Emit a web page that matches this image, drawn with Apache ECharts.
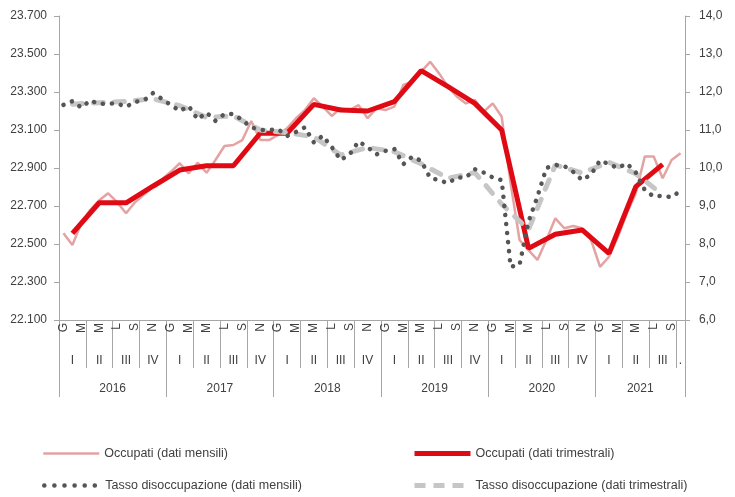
<!DOCTYPE html>
<html>
<head>
<meta charset="utf-8">
<script src="https://cdn.jsdelivr.net/npm/echarts@6/dist/echarts.min.js"></script>
<style>
  html, body { margin: 0; padding: 0; background: #fff; }
  #chart { width: 735px; height: 497px; }
</style>
</head>
<body>
<div id="chart"></div>
<script>
// axis labels
const years = [2016, 2017, 2018, 2019, 2020, 2021];
const monthLetters = ["G", "F", "M", "A", "M", "G", "L", "A", "S", "O", "N", "D"];
const quarterLabels = ["I", "II", "III", "IV"];
const monthCount = 70; // gen 2016 - ott 2021

// occupati, migliaia (asse sinistro)
const occupatiMensili = [
  22556, 22495, 22610, 22680, 22730, 22767, 22720, 22662, 22720, 22760, 22800, 22840,
  22880, 22925, 22872, 22928, 22875, 22942, 23016, 23021, 23047, 23147, 23047, 23047,
  23074, 23109, 23162, 23205, 23267, 23223, 23174, 23214, 23205, 23231, 23162, 23214,
  23205, 23223, 23337, 23355, 23407, 23459, 23398, 23328, 23275, 23240, 23258, 23196,
  23240, 23170, 22820, 22521, 22468, 22416, 22521, 22635, 22583, 22595, 22583, 22521,
  22380, 22433, 22538, 22662, 22767, 22960, 22960, 22846, 22942, 22977
];
const occupatiTrimestrali = [
  22556, 22717, 22717, 22804, 22889, 22912, 22912, 23083, 23083, 23235, 23205, 23200,
  23249, 23412, 23328, 23240, 23100, 22477, 22551, 22574, 22451, 22802, 22919
];

// tasso di disoccupazione, % (asse destro)
const tassoMensili = [
  11.66, 11.76, 11.59, 11.78, 11.68, 11.70, 11.70, 11.61, 11.74, 11.78, 11.97, 11.82,
  11.66, 11.50, 11.63, 11.28, 11.46, 11.24, 11.42, 11.42, 11.26, 11.07, 11.00, 11.00,
  11.02, 10.84, 10.95, 11.07, 10.67, 10.85, 10.55, 10.21, 10.36, 10.70, 10.55, 10.36,
  10.45, 10.50, 10.10, 10.30, 10.19, 9.74, 9.68, 9.60, 9.75, 9.75, 9.97, 9.88,
  9.75, 9.68, 7.40, 7.45, 8.59, 9.25, 10.00, 10.08, 10.05, 9.90, 9.68, 9.83,
  10.20, 10.10, 10.00, 10.12, 9.88, 9.42, 9.25, 9.27, 9.23, 9.40
];
const tassoTrimestrali = [
  11.68, 11.72, 11.75, 11.82, 11.64, 11.33, 11.37, 11.00, 10.93, 10.82, 10.34, 10.54,
  10.43, 10.11, 9.73, 9.88, 9.05, 8.38, 10.08, 9.87, 10.15, 9.85, 9.30
];

const fontFamily = '"Liberation Sans", Arial, sans-serif';
const textColor = "#404040";
const axisColor = "#a6a6a6";
const colors = {
  occMensili: "#e4a3a3",
  occTrim: "#e00a14",
  tassoMensili: "#555555",
  tassoTrim: "#c6c6c6",
};

const months = [];
for (let i = 0; i < monthCount; i++) {
  months.push(years[Math.floor(i / 12)] + "-" + (i % 12 + 1));
}

// quarterly values sit on the middle month of each quarter
function toMonthly(arr) {
  const out = new Array(monthCount).fill(null);
  arr.forEach((v, q) => { out[q * 3 + 1] = v; });
  return out;
}

function thousands(v) {
  return String(v).replace(/\B(?=(\d{3})+$)/g, ".");
}

const chart = echarts.init(document.getElementById("chart"));

function legendItem(name, left, top, lineStyle) {
  return {
    data: [name],
    left,
    top,
    itemWidth: 56,
    itemHeight: 10,
    padding: 0,
    selectedMode: false,
    itemStyle: { opacity: 0 },
    lineStyle,
    textStyle: { color: textColor, fontSize: 12.5, fontFamily },
  };
}

chart.setOption({
  animation: false,
  textStyle: { fontFamily },
  grid: { left: 59, right: 50, top: 16, bottom: 177, containLabel: false },
  legend: [
    legendItem("Occupati (dati mensili)", 42, 447, { color: colors.occMensili, width: 2.5 }),
    legendItem("Occupati (dati trimestrali)", 412, 447, { color: colors.occTrim, width: 5 }),
    legendItem("Tasso disoccupazione (dati mensili)", 42, 479, {
      color: colors.tassoMensili, width: 4.5, type: [0.1, 10], cap: "round",
    }),
    legendItem("Tasso disoccupazione (dati trimestrali)", 412, 479, {
      color: colors.tassoTrim, width: 5, type: [11, 8], cap: "butt",
    }),
  ],
  xAxis: [
    {
      type: "category",
      position: "bottom",
      data: months,
      boundaryGap: true,
      axisLine: { lineStyle: { color: axisColor } },
      axisTick: { show: true, length: 48, interval: 2, lineStyle: { color: axisColor } },
      axisLabel: {
        rotate: 90,
        margin: 3,
        interval: 1,
        formatter: (value, index) => monthLetters[index % 12],
        color: textColor,
        fontSize: 12,
      },
      splitLine: { show: false },
    },
    {
      type: "category",
      position: "bottom",
      data: months,
      boundaryGap: true,
      axisLine: { show: false },
      axisTick: { show: false },
      axisLabel: {
        margin: 35,
        interval: (index) => index % 3 === 1 || index === monthCount - 1,
        formatter: (value, index) =>
          index === monthCount - 1 ? "." : quarterLabels[Math.floor(index / 3) % 4],
        color: textColor,
        fontSize: 12,
      },
    },
    {
      type: "category",
      position: "bottom",
      data: months,
      boundaryGap: true,
      axisLine: { show: false },
      axisTick: { show: true, length: 77, interval: 11, lineStyle: { color: axisColor } },
      axisLabel: {
        margin: 63,
        interval: (index) => index % 12 === 6 || index === 65,
        formatter: (value, index) => "{y|" + years[Math.floor(index / 12)] + "}",
        rich: { y: { color: textColor, fontSize: 12, padding: [0, 9, 0, 0] } },
      },
    },
  ],
  yAxis: [
    {
      type: "value",
      min: 22100,
      max: 23700,
      interval: 200,
      axisLine: { show: true, lineStyle: { color: axisColor } },
      axisTick: { show: true, length: 5, lineStyle: { color: axisColor } },
      axisLabel: { color: textColor, fontSize: 12, margin: 12, formatter: thousands },
      splitLine: { show: false },
    },
    {
      type: "value",
      min: 6,
      max: 14,
      interval: 1,
      position: "right",
      axisLine: { show: true, lineStyle: { color: axisColor } },
      axisTick: { show: true, length: 5, lineStyle: { color: axisColor } },
      axisLabel: {
        color: textColor,
        fontSize: 12,
        margin: 14,
        formatter: (v) => v.toFixed(1).replace(".", ","),
      },
      splitLine: { show: false },
    },
  ],
  series: [
    {
      name: "Occupati (dati mensili)",
      type: "line",
      data: occupatiMensili,
      symbol: "none",
      z: 2,
      itemStyle: { color: colors.occMensili },
      lineStyle: { color: colors.occMensili, width: 2.5 },
    },
    {
      name: "Occupati (dati trimestrali)",
      type: "line",
      data: toMonthly(occupatiTrimestrali),
      connectNulls: true,
      symbol: "none",
      z: 3,
      itemStyle: { color: colors.occTrim },
      lineStyle: { color: colors.occTrim, width: 5 },
    },
    {
      name: "Tasso disoccupazione (dati trimestrali)",
      type: "line",
      yAxisIndex: 1,
      data: toMonthly(tassoTrimestrali),
      connectNulls: true,
      symbol: "none",
      z: 4,
      itemStyle: { color: colors.tassoTrim },
      lineStyle: { color: colors.tassoTrim, width: 5, type: [10, 11], cap: "round" },
    },
    {
      name: "Tasso disoccupazione (dati mensili)",
      type: "line",
      yAxisIndex: 1,
      data: tassoMensili,
      symbol: "none",
      z: 5,
      itemStyle: { color: colors.tassoMensili },
      lineStyle: { color: colors.tassoMensili, width: 4.5, type: [0.1, 9], cap: "round" },
    },
  ],
});
</script>
</body>
</html>
